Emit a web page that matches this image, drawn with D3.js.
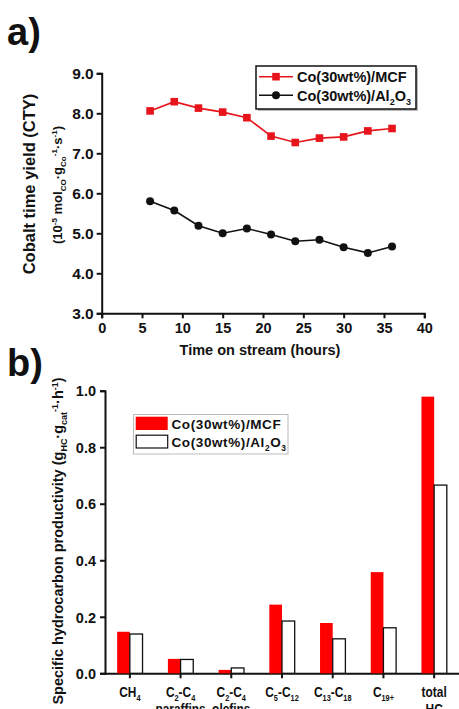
<!DOCTYPE html>
<html><head><meta charset="utf-8">
<script src="https://cdn.jsdelivr.net/npm/d3@7"></script>
<style>
body{margin:0;background:#fff}
svg{display:block}
text{font-family:"Liberation Sans",Arial,Helvetica,sans-serif;font-weight:bold;fill:#111}
</style>
</head><body>
<svg id="c" width="459" height="709"></svg>
<script>
// ---------- Data (panel a) ----------
const hours = [6, 9, 12, 15, 18, 21, 24, 27, 30, 33, 36];
const ctyMCF = [8.06, 8.29, 8.13, 8.03, 7.89, 7.43, 7.27, 7.38, 7.41, 7.56, 7.62];
const ctyAl2O3 = [5.80, 5.57, 5.19, 5.00, 5.12, 4.97, 4.80, 4.84, 4.65, 4.51, 4.67];
const xTicksA = [0, 5, 10, 15, 20, 25, 30, 35, 40];
const yTicksA = [3, 4, 5, 6, 7, 8, 9];
const seriesNames = ["Co(30wt%)/MCF", "Co(30wt%)/Al{2}O{3}"];

// ---------- Data (panel b) ----------
const categories = ["CH{4}", "C{2}-C{4}|paraffins", "C{2}-C{4}|olefins", "C{5}-C{12}", "C{13}-C{18}", "C{19+}", "total|HC"];
const prodMCF = [0.147, 0.051, 0.012, 0.243, 0.178, 0.358, 0.979];
const prodAl2O3 = [0.139, 0.049, 0.019, 0.185, 0.122, 0.161, 0.666];
const yTicksB = [0, 0.2, 0.4, 0.6, 0.8, 1.0];

const RED = "#e8141c";
const svg = d3.select("#c");

function rich(textSel, str, size) {
  const re = /(\^\{[^}]*\}|\{[^}]*\})/g;
  const parts = str.split(re).filter(s => s !== "");
  let cur = 0;
  parts.forEach(p => {
    let off = 0, fs = size, t = p;
    if (p.startsWith("^{")) { off = -0.38 * size; fs = size * 0.62; t = p.slice(2, -1); }
    else if (p.startsWith("{")) { off = 0.3 * size; fs = size * 0.62; t = p.slice(1, -1); }
    textSel.append("tspan").attr("dy", off - cur).attr("font-size", fs).text(t);
    cur = off;
  });
}

// ================= Panel a =================
svg.append("text").attr("x", 7).attr("y", 45).attr("font-size", 38).text("a)");

const xA = d3.scaleLinear().domain([0, 40]).range([101.7, 424.3]);
const yA = d3.scaleLinear().domain([3, 9]).range([313.3, 73.3]);

const gxA = svg.append("g").attr("transform", `translate(0,${yA(3)})`)
  .call(d3.axisBottom(xA).tickValues(xTicksA).tickSize(5).tickPadding(4).tickFormat(d3.format("d")));
const gyA = svg.append("g").attr("transform", `translate(${xA(0)},0)`)
  .call(d3.axisLeft(yA).tickValues(yTicksA).tickSize(5).tickPadding(3).tickFormat(d3.format(".1f")));
[gxA, gyA].forEach(g => {
  g.select(".domain").attr("stroke", "#111").attr("stroke-width", 2);
  g.selectAll(".tick line").attr("stroke", "#111").attr("stroke-width", 2);
  g.selectAll("text").attr("font-family", null).attr("fill", "#111");
});
gxA.selectAll("text").attr("font-size", 14.5);
gyA.selectAll("text").attr("font-size", 15.5).attr("dy", "0.36em");

const lineA = d3.line().x((d, i) => xA(hours[i])).y(d => yA(d));
svg.append("path").datum(ctyMCF).attr("d", lineA).attr("fill", "none").attr("stroke", RED).attr("stroke-width", 1.6);
svg.append("path").datum(ctyAl2O3).attr("d", lineA).attr("fill", "none").attr("stroke", "#111").attr("stroke-width", 1.6);
svg.append("g").selectAll("rect").data(ctyMCF).join("rect")
  .attr("x", (d, i) => xA(hours[i]) - 3.8).attr("y", d => yA(d) - 3.8)
  .attr("width", 7.6).attr("height", 7.6).attr("fill", RED);
svg.append("g").selectAll("circle").data(ctyAl2O3).join("circle")
  .attr("cx", (d, i) => xA(hours[i])).attr("cy", d => yA(d)).attr("r", 4).attr("fill", "#111");

// axis titles a
const tA = svg.append("text").attr("transform", "translate(35,184) rotate(-90)").attr("text-anchor", "middle").attr("font-size", 16.5);
rich(tA, "Cobalt time yield (CTY)", 16.5);
const tA2 = svg.append("text").attr("transform", "translate(62,185) rotate(-90)").attr("text-anchor", "middle").attr("font-size", 13);
rich(tA2, "(10^{-5} mol{CO}·g{Co}^{-1}·s^{-1})", 13);
svg.append("text").attr("x", 260).attr("y", 355).attr("text-anchor", "middle").attr("font-size", 14.5).text("Time on stream (hours)");

// legend a
const lgA = svg.append("g");
lgA.append("rect").attr("x", 258).attr("y", 68).attr("width", 160).attr("height", 43).attr("fill", "#bbb");
lgA.append("rect").attr("x", 256).attr("y", 66).attr("width", 160).attr("height", 43).attr("fill", "#fff").attr("stroke", "#111").attr("stroke-width", 1.5);
const rowsA = [76.7, 95.3];
lgA.append("line").attr("x1", 259).attr("x2", 293).attr("y1", rowsA[0]).attr("y2", rowsA[0]).attr("stroke", RED).attr("stroke-width", 1.6);
lgA.append("rect").attr("x", 276 - 3.8).attr("y", rowsA[0] - 3.8).attr("width", 7.6).attr("height", 7.6).attr("fill", RED);
lgA.append("line").attr("x1", 259).attr("x2", 293).attr("y1", rowsA[1]).attr("y2", rowsA[1]).attr("stroke", "#111").attr("stroke-width", 1.6);
lgA.append("circle").attr("cx", 276).attr("cy", rowsA[1]).attr("r", 4).attr("fill", "#111");
seriesNames.forEach((s, i) => {
  const t = lgA.append("text").attr("x", 297).attr("y", rowsA[i] + 5.2).attr("font-size", 14.5);
  rich(t, s, 14.5);
});

// ================= Panel b =================
svg.append("text").attr("x", 7).attr("y", 376).attr("font-size", 38).text("b)");

const xB = d3.scaleBand().domain(categories).range([104.5, 459.5]).paddingInner(0.5).paddingOuter(0.25);
const yB = d3.scaleLinear().domain([0, 1]).range([673.3, 390.7]);

const gxB = svg.append("g").attr("transform", `translate(0,${yB(0)})`)
  .call(d3.axisBottom(xB).tickSize(5).tickFormat(""));
gxB.select(".domain").attr("d", `M${104.5},0.5H459.5`);
const gyB = svg.append("g").attr("transform", `translate(105,0)`)
  .call(d3.axisLeft(yB).tickValues(yTicksB).tickSize(5).tickPadding(4).tickFormat(d3.format(".1f")));
[gxB, gyB].forEach(g => {
  g.select(".domain").attr("stroke", "#111").attr("stroke-width", 2);
  g.selectAll(".tick line").attr("stroke", "#111").attr("stroke-width", 2);
});
gyB.selectAll("text").attr("font-family", null).attr("fill", "#111").attr("font-size", 14.5).attr("dy", "0.36em");

const bw = xB.bandwidth() / 2;
svg.append("g").selectAll("rect").data(prodMCF).join("rect")
  .attr("x", (d, i) => xB(categories[i])).attr("y", d => yB(d))
  .attr("width", bw).attr("height", d => yB(0) - yB(d)).attr("fill", "#ff0000");
svg.append("g").selectAll("rect").data(prodAl2O3).join("rect")
  .attr("x", (d, i) => xB(categories[i]) + bw).attr("y", d => yB(d))
  .attr("width", bw).attr("height", d => yB(0) - yB(d)).attr("fill", "#fff").attr("stroke", "#111").attr("stroke-width", 1.3);

// category labels (slightly condensed, as in the reference)
categories.forEach(c => {
  const cx = xB(c) + xB.bandwidth() / 2;
  c.split("|").forEach((line, j) => {
    const t = svg.append("text")
      .attr("transform", `translate(${cx},${696.5 + j * 17}) scale(0.85,1)`)
      .attr("text-anchor", "middle").attr("font-size", 14);
    rich(t, line, 14);
  });
});

// y title b
const tB = svg.append("text").attr("transform", "translate(63,541) rotate(-90)").attr("text-anchor", "middle").attr("font-size", 14.5);
rich(tB, "Specific hydrocarbon productivity (g{HC}·g{cat}^{-1}·h^{-1})", 14.5);

// legend b
const lgB = svg.append("g");
lgB.append("rect").attr("x", 133.5).attr("y", 414.5).attr("width", 154.5).attr("height", 39.5).attr("fill", "#fff").attr("stroke", "#bbb").attr("stroke-width", 1);
lgB.append("rect").attr("x", 135.7).attr("y", 416.7).attr("width", 32).attr("height", 13.3).attr("fill", "#ff0000");
lgB.append("rect").attr("x", 136.2).attr("y", 435.2).attr("width", 31.5).attr("height", 12.8).attr("fill", "#fff").attr("stroke", "#111").attr("stroke-width", 1.2);
seriesNames.forEach((s, i) => {
  const t = lgB.append("text").attr("x", 171.5).attr("y", 428.5 + i * 18.5).attr("font-size", 13.5).attr("letter-spacing", 0.6);
  rich(t, s, 13.5);
});
</script>
</body></html>
